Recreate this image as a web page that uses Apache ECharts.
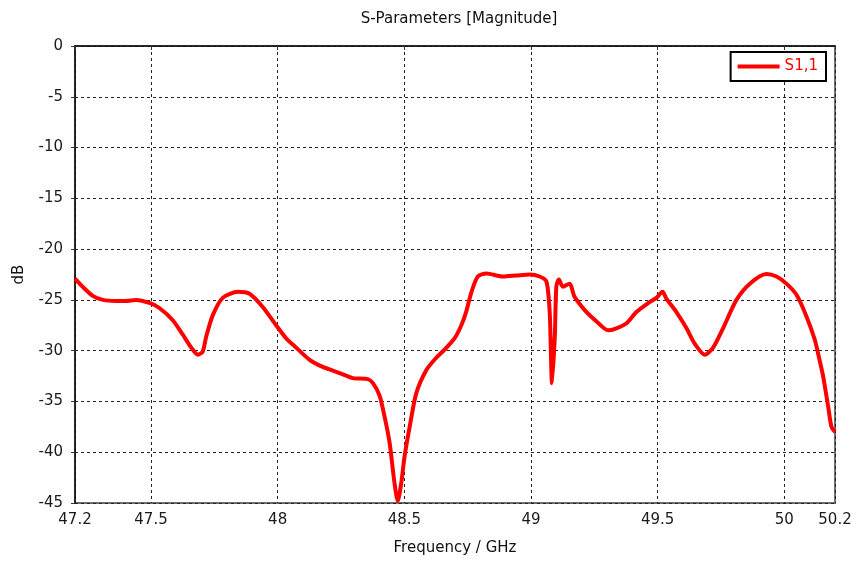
<!DOCTYPE html>
<html>
<head>
<meta charset="utf-8">
<script src="https://cdn.jsdelivr.net/npm/echarts@6/dist/echarts.min.js"></script>
<style>
  html, body { margin: 0; padding: 0; background: #fff; }
  #chart { width: 852px; height: 563px; }
</style>
</head>
<body>
<div id="chart"></div>
<script>
// S11 magnitude sweep, frequency in GHz and reflection in dB
const freqGHz = [
  47.200, 47.230, 47.270, 47.310, 47.362, 47.400, 47.441, 47.494, 47.533, 47.586,
  47.625, 47.659, 47.685, 47.704, 47.718, 47.744, 47.783, 47.843, 47.889, 47.941,
  47.994, 48.034, 48.073, 48.126, 48.178, 48.244, 48.297, 48.356, 48.376, 48.402,
  48.422, 48.442, 48.461, 48.474, 48.488, 48.501, 48.521, 48.547, 48.587, 48.626,
  48.659, 48.698, 48.725, 48.745, 48.764, 48.790, 48.824, 48.889, 48.942, 48.995,
  49.034, 49.061, 49.074, 49.083, 49.094, 49.100, 49.110, 49.126, 49.152, 49.172,
  49.212, 49.258, 49.304, 49.337, 49.377, 49.416, 49.469, 49.495, 49.519, 49.535,
  49.574, 49.614, 49.646, 49.686, 49.719, 49.758, 49.811, 49.864, 49.929, 49.969,
  50.008, 50.048, 50.087, 50.120, 50.133, 50.153, 50.173, 50.186, 50.200
];
const s11dB = [
  -22.9, -23.7, -24.6, -25.0, -25.1, -25.1, -25.0, -25.3, -25.8, -27.0,
  -28.4, -29.7, -30.4, -30.1, -28.6, -26.5, -24.8, -24.2, -24.4, -25.7,
  -27.5, -28.8, -29.7, -30.9, -31.6, -32.2, -32.7, -32.8, -33.2, -34.4,
  -36.5, -39.1, -43.0, -44.8, -43.0, -40.4, -37.5, -34.2, -31.9, -30.7,
  -29.9, -28.8, -27.5, -26.1, -24.3, -22.7, -22.4, -22.7, -22.6, -22.5,
  -22.7, -23.2, -26.3, -33.2, -28.6, -23.7, -23.0, -23.7, -23.4, -24.7,
  -26.0, -27.1, -28.0, -27.8, -27.3, -26.2, -25.2, -24.8, -24.2, -24.9,
  -26.2, -27.8, -29.3, -30.4, -29.7, -27.8, -25.0, -23.4, -22.45, -22.7,
  -23.4, -24.5, -26.6, -28.9, -30.25, -32.5, -35.5, -37.5, -38.0
];
const xTicks = [47.2, 47.5, 48, 48.5, 49, 49.5, 50, 50.2];
const seriesName = 'S1,1';

const font = '"DejaVu Sans", Verdana, sans-serif';
const chart = echarts.init(document.getElementById('chart'), null, { renderer: 'canvas' });

chart.setOption({
  animation: false,
  backgroundColor: '#ffffff',
  title: {
    text: 'S-Parameters [Magnitude]',
    left: 454, top: 7, textAlign: 'center',
    textStyle: { fontFamily: font, fontSize: 15, fontWeight: 'normal', color: '#111' }
  },
  legend: {
    data: [seriesName],
    right: 26, top: 52,
    icon: 'rect', itemWidth: 42, itemHeight: 4, itemGap: 5,
    padding: [7, 8, 7, 7],
    borderColor: '#000', borderWidth: 2, backgroundColor: '#fff',
    textStyle: { fontFamily: font, fontSize: 15, color: '#ff0000' }
  },
  grid: {
    left: 75, top: 46, width: 760, height: 457,
    outerBoundsMode: 'none',
    show: true, borderColor: '#6e6e6e', borderWidth: 2
  },
  xAxis: {
    type: 'value', min: 47.2, max: 50.2,
    name: 'Frequency / GHz', nameLocation: 'middle', nameGap: 38,
    nameTextStyle: { fontFamily: font, fontSize: 15, color: '#111' },
    axisLine: { show: true, lineStyle: { color: '#111', width: 1.5 } },
    axisTick: { show: true, length: 4, inside: false, customValues: xTicks, lineStyle: { color: '#333' } },
    axisLabel: { customValues: xTicks, margin: 10, fontFamily: font, fontSize: 15, color: '#1a1a1a',
      formatter: v => String(+v.toFixed(1)) },
    splitLine: { show: true, lineStyle: { color: '#222', type: [3, 3], width: 1 } }
  },
  yAxis: {
    type: 'value', min: -45, max: 0, interval: 5,
    name: 'dB', nameLocation: 'middle', nameGap: 48,
    nameTextStyle: { fontFamily: font, fontSize: 15, color: '#111' },
    axisLine: { show: true, lineStyle: { color: '#111', width: 1.5 } },
    axisTick: { show: true, length: 4, lineStyle: { color: '#333' } },
    axisLabel: { margin: 12, fontFamily: font, fontSize: 15, color: '#1a1a1a' },
    splitLine: { show: true, lineStyle: { color: '#222', type: [3, 3], width: 1 } }
  },
  series: [{
    name: seriesName,
    type: 'line',
    data: freqGHz.map((f, i) => [f, s11dB[i]]),
    showSymbol: false, symbol: 'none',
    smooth: 0.25,
    lineStyle: { color: '#ff0000', width: 4 },
    itemStyle: { color: '#ff0000' },
    clip: true
  }]
});
</script>
</body>
</html>
